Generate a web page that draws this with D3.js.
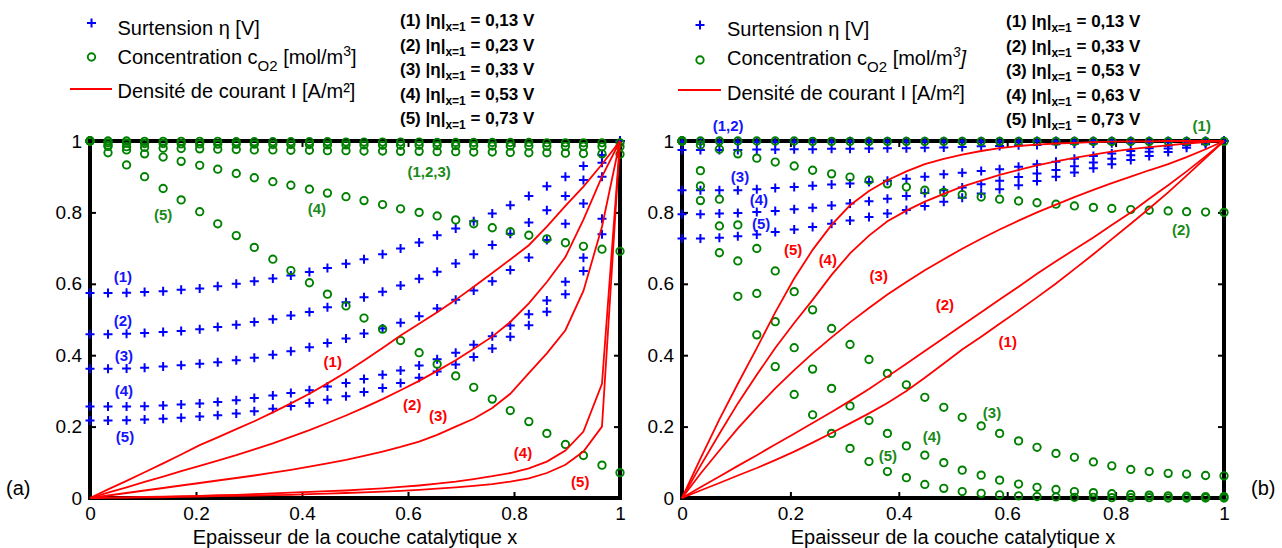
<!DOCTYPE html>
<html><head><meta charset="utf-8">
<script src="https://cdn.jsdelivr.net/npm/d3@7"></script>
<style>
body{margin:0;background:#fff;}
svg{display:block;font-family:"Liberation Sans",Arial,sans-serif;}
</style></head><body>
<svg id="c" width="1282" height="548"></svg>
<script>
// ---------- data ----------
const xGrid = [0,0.034,0.069,0.103,0.138,0.172,0.207,0.241,0.276,0.310,0.345,0.379,0.414,0.448,0.483,0.517,0.552,0.586,0.621,0.655,0.690,0.724,0.759,0.793,0.828,0.862,0.897,0.931,0.966,1];
const axisTicks = [0,0.2,0.4,0.6,0.8,1];
const tickLabels = ["0","0.2","0.4","0.6","0.8","1"];

// Panel (a)
const etaA1 = [0.574,0.574,0.575,0.577,0.579,0.583,0.587,0.593,0.600,0.607,0.615,0.623,0.633,0.644,0.656,0.669,0.683,0.699,0.716,0.736,0.755,0.775,0.797,0.820,0.846,0.873,0.900,0.930,0.961,1.0];
const etaA2 = [0.459,0.459,0.460,0.462,0.465,0.468,0.473,0.479,0.485,0.493,0.501,0.511,0.521,0.534,0.548,0.562,0.578,0.595,0.614,0.634,0.657,0.683,0.709,0.740,0.772,0.806,0.846,0.891,0.939,1.0];
const etaA3 = [0.362,0.362,0.363,0.365,0.368,0.372,0.376,0.380,0.386,0.393,0.401,0.411,0.422,0.434,0.447,0.461,0.475,0.491,0.509,0.531,0.555,0.581,0.607,0.639,0.674,0.723,0.768,0.825,0.900,1.0];
const etaA4 = [0.256,0.256,0.256,0.257,0.259,0.262,0.265,0.269,0.274,0.280,0.287,0.294,0.302,0.312,0.322,0.333,0.345,0.357,0.371,0.389,0.407,0.429,0.453,0.483,0.515,0.553,0.606,0.673,0.782,1.0];
const etaA5 = [0.217,0.217,0.218,0.220,0.222,0.225,0.228,0.232,0.237,0.243,0.250,0.258,0.266,0.275,0.285,0.297,0.308,0.322,0.337,0.354,0.374,0.395,0.419,0.452,0.484,0.522,0.571,0.636,0.739,1.0];

const concA1 = [1,1,1,0.999,0.999,0.999,0.999,0.999,0.998,0.998,0.998,0.998,0.998,0.998,0.997,0.997,0.997,0.997,0.997,0.996,0.996,0.996,0.996,0.996,0.996,0.995,0.995,0.995,0.995,0.995];
const concA2 = [1,0.995,0.994,0.993,0.993,0.992,0.992,0.991,0.991,0.991,0.990,0.990,0.990,0.989,0.989,0.989,0.988,0.988,0.988,0.987,0.987,0.987,0.986,0.986,0.986,0.985,0.985,0.985,0.984,0.984];
const concA3 = [1,0.988,0.984,0.982,0.980,0.979,0.978,0.977,0.976,0.975,0.975,0.974,0.974,0.973,0.973,0.972,0.972,0.971,0.971,0.970,0.970,0.969,0.969,0.968,0.967,0.967,0.966,0.965,0.964,0.963];
const concA4 = [1.0,0.985,0.975,0.964,0.955,0.943,0.932,0.921,0.909,0.897,0.886,0.876,0.865,0.854,0.844,0.833,0.822,0.810,0.800,0.790,0.779,0.768,0.757,0.746,0.736,0.726,0.715,0.705,0.697,0.691];
const concA5 = [1.0,0.967,0.933,0.900,0.867,0.835,0.802,0.768,0.735,0.702,0.669,0.637,0.603,0.571,0.538,0.504,0.473,0.441,0.407,0.375,0.342,0.310,0.277,0.245,0.214,0.181,0.150,0.119,0.092,0.071];

const currA1 = [0,0.024,0.048,0.072,0.097,0.122,0.148,0.170,0.193,0.215,0.240,0.265,0.292,0.321,0.352,0.385,0.420,0.455,0.488,0.520,0.555,0.592,0.630,0.668,0.708,0.760,0.818,0.872,0.935,1];
const currA2 = [0,0.015,0.030,0.045,0.060,0.075,0.090,0.105,0.120,0.136,0.153,0.171,0.190,0.210,0.231,0.253,0.277,0.302,0.328,0.356,0.386,0.418,0.452,0.493,0.545,0.605,0.675,0.780,0.900,1];
const currA3 = [0,0.007,0.014,0.021,0.028,0.035,0.042,0.049,0.056,0.063,0.071,0.079,0.088,0.097,0.107,0.118,0.130,0.143,0.158,0.177,0.200,0.222,0.252,0.292,0.350,0.405,0.470,0.580,0.760,1];
const currA4 = [0,0.001,0.002,0.003,0.004,0.005,0.006,0.008,0.009,0.011,0.013,0.015,0.017,0.019,0.021,0.024,0.027,0.031,0.035,0.040,0.046,0.053,0.061,0.070,0.083,0.102,0.133,0.186,0.320,1];
const currA5 = [0,0.001,0.001,0.002,0.002,0.003,0.004,0.005,0.006,0.007,0.008,0.009,0.011,0.012,0.014,0.016,0.018,0.020,0.023,0.026,0.030,0.034,0.039,0.046,0.055,0.070,0.093,0.130,0.200,1];

// Panel (b)
const etaB1 = [0.998,0.998,0.998,0.998,0.998,0.998,0.998,0.998,0.998,0.999,0.999,0.999,0.999,0.999,0.999,0.999,0.999,0.999,0.999,1,1,1,1,1,1,1,1,1,1,1];
const etaB2 = [0.975,0.975,0.975,0.975,0.976,0.976,0.977,0.977,0.978,0.978,0.979,0.980,0.980,0.981,0.982,0.983,0.985,0.986,0.988,0.989,0.991,0.992,0.993,0.994,0.995,0.996,0.997,0.998,0.999,1];
const etaB3 = [0.862,0.862,0.862,0.862,0.865,0.868,0.871,0.875,0.878,0.881,0.885,0.889,0.894,0.900,0.907,0.911,0.916,0.921,0.928,0.935,0.942,0.950,0.958,0.965,0.972,0.980,0.987,0.994,0.998,1];
const etaB4 = [0.795,0.795,0.797,0.798,0.801,0.804,0.809,0.813,0.819,0.825,0.831,0.838,0.846,0.854,0.862,0.870,0.879,0.889,0.899,0.909,0.919,0.929,0.940,0.950,0.960,0.970,0.979,0.988,0.995,1];
const etaB5 = [0.727,0.727,0.729,0.733,0.738,0.745,0.752,0.759,0.768,0.777,0.787,0.797,0.807,0.818,0.830,0.841,0.853,0.865,0.876,0.888,0.900,0.912,0.924,0.935,0.947,0.958,0.969,0.981,0.991,1];

const concB1 = [1,1,1,1,1,1,1,0.999,0.999,0.999,0.999,0.999,0.999,0.999,0.999,0.999,0.999,0.999,0.999,0.999,0.999,0.999,0.999,0.999,0.999,0.999,0.999,0.999,0.999,0.999];
const concB2 = [1.0,0.989,0.977,0.964,0.952,0.941,0.930,0.918,0.908,0.899,0.890,0.880,0.871,0.862,0.856,0.850,0.843,0.837,0.832,0.827,0.823,0.818,0.814,0.811,0.808,0.806,0.804,0.802,0.801,0.800];
const concB3 = [1.0,0.917,0.837,0.765,0.699,0.636,0.578,0.527,0.475,0.430,0.388,0.349,0.317,0.282,0.254,0.226,0.202,0.181,0.160,0.142,0.125,0.114,0.101,0.090,0.080,0.074,0.069,0.067,0.063,0.062];
const concB4 = [1.0,0.874,0.762,0.664,0.573,0.494,0.421,0.361,0.307,0.258,0.217,0.181,0.146,0.120,0.099,0.078,0.064,0.050,0.039,0.030,0.024,0.018,0.015,0.012,0.010,0.008,0.006,0.005,0.004,0.004];
const concB5 = [1.0,0.833,0.687,0.565,0.457,0.368,0.290,0.233,0.181,0.139,0.102,0.074,0.057,0.038,0.027,0.018,0.013,0.009,0.006,0.004,0.003,0.002,0.002,0.001,0.001,0.001,0,0,0,0];

const currB1 = [0,0.021,0.042,0.063,0.084,0.106,0.130,0.155,0.182,0.209,0.237,0.266,0.300,0.337,0.377,0.416,0.452,0.488,0.525,0.562,0.601,0.641,0.683,0.725,0.768,0.811,0.856,0.903,0.952,1];
const currB2 = [0,0.030,0.060,0.090,0.120,0.150,0.180,0.210,0.241,0.272,0.305,0.340,0.376,0.412,0.448,0.484,0.520,0.556,0.592,0.628,0.663,0.696,0.730,0.765,0.800,0.838,0.876,0.915,0.957,1];
const currB3 = [0,0.068,0.133,0.195,0.253,0.307,0.358,0.405,0.450,0.492,0.532,0.570,0.605,0.638,0.669,0.698,0.726,0.752,0.777,0.800,0.822,0.843,0.863,0.882,0.900,0.918,0.935,0.955,0.977,1];
const currB4 = [0,0.090,0.180,0.265,0.345,0.420,0.490,0.555,0.625,0.685,0.735,0.775,0.805,0.830,0.852,0.872,0.889,0.905,0.919,0.932,0.943,0.953,0.962,0.970,0.977,0.983,0.988,0.993,0.997,1];
const currB5 = [0,0.110,0.220,0.320,0.420,0.520,0.615,0.695,0.765,0.820,0.860,0.890,0.915,0.935,0.950,0.962,0.972,0.980,0.986,0.990,0.993,0.995,0.997,0.998,0.999,0.999,1,1,1,1];

// Legend / annotation texts
const legendLabels = ["Surtension η [V]", "Concentration c", "Densité de courant I [A/m²]"];
const etaValuesA = ["0,13","0,23","0,33","0,53","0,73"];
const etaValuesB = ["0,13","0,33","0,53","0,63","0,73"];
const axisTitle = "Epaisseur de la couche catalytique x";

// In-plot curve labels: [text, x, y] in data units
const labelsA = {
  blue: [["(1)",0.062,0.619],["(2)",0.062,0.496],["(3)",0.064,0.398],["(4)",0.064,0.300],["(5)",0.066,0.171]],
  green: [["(1,2,3)",0.640,0.913],["(4)",0.428,0.810],["(5)",0.138,0.793]],
  red: [["(1)",0.458,0.381],["(2)",0.608,0.263],["(3)",0.657,0.230],["(4)",0.817,0.126],["(5)",0.925,0.045]]
};
const labelsB = {
  blue: [["(1,2)",0.085,1.042],["(3)",0.107,0.899],["(4)",0.142,0.835],["(5)",0.146,0.770]],
  green: [["(1)",0.959,1.042],["(2)",0.921,0.753],["(3)",0.572,0.238],["(4)",0.461,0.171],["(5)",0.380,0.120]],
  red: [["(5)",0.205,0.695],["(4)",0.269,0.669],["(3)",0.363,0.622],["(2)",0.485,0.543],["(1)",0.601,0.437]]
};

// ---------- drawing ----------
const svg = d3.select("#c");
const BLUE = "#0000ff", GREEN = "#008000", RED = "#ff0000";
const LBLUE = "#1414ff", LGREEN = "#1a8a1a";

function panel(cfg){
  const x = d3.scaleLinear().domain([0,1]).range(cfg.xr);
  const y = d3.scaleLinear().domain([0,1]).range([498,141]);
  const g = svg.append("g");
  const fmt = d => tickLabels[axisTicks.indexOf(d)];

  const styleAxis = sel => {
    sel.select(".domain").remove();
    sel.selectAll(".tick line").attr("stroke","#000").attr("stroke-width",2);
    sel.selectAll(".tick text").attr("font-size",19).attr("fill","#000")
      .attr("font-family","'Liberation Sans',Arial,sans-serif");
  };
  g.append("g").attr("transform",`translate(${x(0)},0)`)
    .call(d3.axisLeft(y).tickValues(axisTicks).tickFormat(fmt).tickSizeInner(-6).tickSizeOuter(0).tickPadding(8)).call(styleAxis);
  g.append("g").attr("transform",`translate(${x(1)},0)`)
    .call(d3.axisRight(y).tickValues(axisTicks).tickFormat("").tickSizeInner(-6).tickSizeOuter(0)).call(styleAxis);
  g.append("g").attr("transform",`translate(0,${y(0)})`)
    .call(d3.axisBottom(x).tickValues(axisTicks).tickFormat(fmt).tickSizeInner(-6).tickSizeOuter(0).tickPadding(9)).call(styleAxis);
  g.append("g").attr("transform",`translate(0,${y(1)})`)
    .call(d3.axisTop(x).tickValues(axisTicks).tickFormat("").tickSizeInner(-6).tickSizeOuter(0)).call(styleAxis);

  g.append("rect").attr("x",x(0)).attr("y",y(1)).attr("width",x(1)-x(0)).attr("height",y(0)-y(1))
    .attr("fill","none").attr("stroke","#000").attr("stroke-width",4);

  // eta: '+'
  cfg.eta.forEach(s => {
    g.append("g").selectAll("path").data(s).join("path")
      .attr("transform",(d,i)=>`translate(${x(xGrid[i])},${y(d)})`)
      .attr("d","M-4.5,0H4.5M0,-4.5V4.5").attr("stroke",BLUE).attr("stroke-width",2).attr("fill","none");
  });
  // conc: 'o'
  cfg.conc.forEach(s => {
    g.append("g").selectAll("circle").data(s).join("circle")
      .attr("cx",(d,i)=>x(xGrid[i])).attr("cy",d=>y(d)).attr("r",3.7)
      .attr("fill","none").attr("stroke",GREEN).attr("stroke-width",1.9);
  });
  // current: lines
  const line = d3.line().x((d,i)=>x(xGrid[i])).y(d=>y(d));
  cfg.curr.forEach(s => {
    g.append("path").datum(s).attr("d",line).attr("fill","none").attr("stroke",RED).attr("stroke-width",1.8);
  });

  // curve labels
  const lab = (arr,col) => g.append("g").selectAll("text").data(arr).join("text")
    .attr("x",d=>x(d[1])).attr("y",d=>y(d[2])).attr("dy","0.36em").attr("text-anchor","middle")
    .attr("font-size",15).attr("font-weight","bold").attr("fill",col).text(d=>d[0]);
  lab(cfg.labels.blue,LBLUE); lab(cfg.labels.green,LGREEN); lab(cfg.labels.red,RED);

  // axis title
  g.append("text").attr("x",(x(0)+x(1))/2).attr("y",544).attr("text-anchor","middle")
    .attr("font-size",20).text(axisTitle);

  // legend
  const L = cfg.legend;
  g.append("path").attr("transform",`translate(${L.mx},${L.y1})`).attr("d","M-4.5,0H4.5M0,-4.5V4.5")
    .attr("stroke",BLUE).attr("stroke-width",2);
  g.append("circle").attr("cx",L.mx).attr("cy",L.y2).attr("r",3.7).attr("fill","none").attr("stroke",GREEN).attr("stroke-width",1.9);
  g.append("line").attr("x1",L.lx1).attr("x2",L.lx2).attr("y1",L.y3).attr("y2",L.y3).attr("stroke",RED).attr("stroke-width",2);
  g.append("text").attr("x",L.tx).attr("y",L.b1).attr("font-size",20).text(legendLabels[0]);
  const t2 = g.append("text").attr("x",L.tx).attr("y",L.b2).attr("font-size",20);
  t2.append("tspan").text(legendLabels[1]);
  t2.append("tspan").attr("font-size",15).attr("dy",7).text("O2");
  t2.append("tspan").attr("dy",-7).text(" [mol/m");
  t2.append("tspan").attr("font-size",14).attr("dy",-8).attr("font-style",cfg.italic?"italic":null).text("3");
  t2.append("tspan").attr("dy",8).attr("font-style",cfg.italic?"italic":null).text("]");
  g.append("text").attr("x",L.tx).attr("y",L.b3).attr("font-size",20).text(legendLabels[2]);

  // annotation list
  cfg.etaVals.forEach((v,i) => {
    const t = g.append("text").attr("x",cfg.ax).attr("y",cfg.ay0 + i*24.5).attr("font-size",17).attr("font-weight","bold");
    t.append("tspan").text(`(${i+1}) |η|`);
    t.append("tspan").attr("font-size",12).attr("dy",5).text("x=1");
    t.append("tspan").attr("dy",-5).text(` = ${v} V`);
  });

  g.append("text").attr("x",cfg.tagX).attr("y",495).attr("font-size",20).text(cfg.tag);
}

panel({
  xr:[90,620],
  eta:[etaA1,etaA2,etaA3,etaA4,etaA5],
  conc:[concA1,concA2,concA3,concA4,concA5],
  curr:[currA1,currA2,currA3,currA4,currA5],
  labels:labelsA, etaVals:etaValuesA, italic:false,
  legend:{mx:91.5,y1:23,y2:57,y3:89,lx1:70,lx2:112,tx:117.5,b1:35,b2:64,b3:98},
  ax:400, ay0:26, tag:"(a)", tagX:6
});
panel({
  xr:[682,1224],
  eta:[etaB1,etaB2,etaB3,etaB4,etaB5],
  conc:[concB1,concB2,concB3,concB4,concB5],
  curr:[currB1,currB2,currB3,currB4,currB5],
  labels:labelsB, etaVals:etaValuesB, italic:true,
  legend:{mx:700,y1:25,y2:60,y3:90,lx1:678,lx2:721,tx:727,b1:36,b2:65,b3:100},
  ax:1006, ay0:27, tag:"(b)", tagX:1251
});
</script>
</body></html>
